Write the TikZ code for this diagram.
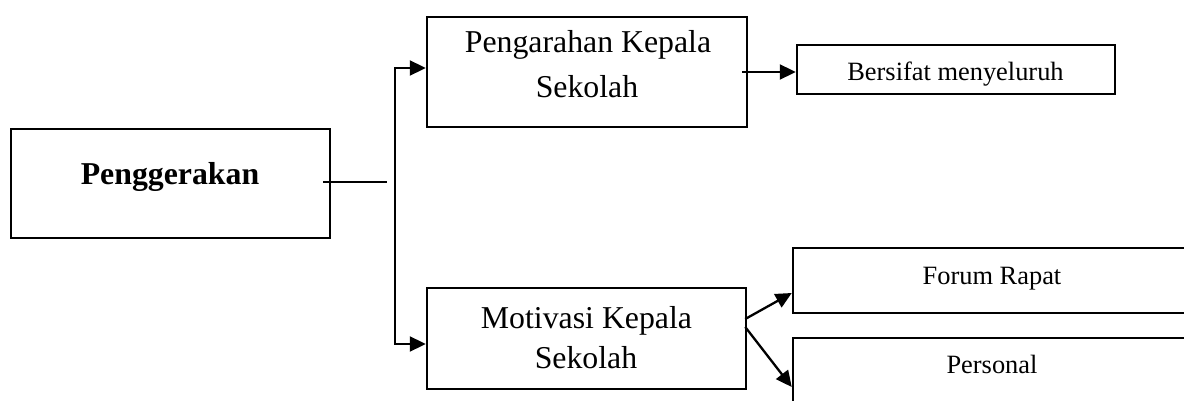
\documentclass[tikz,border=0pt]{standalone}
\usepackage{fontspec}
\setmainfont{Liberation Serif}
\usetikzlibrary{arrows.meta}
\begin{document}
\begin{tikzpicture}[x=1pt,y=-1pt,
  box/.style={draw,line width=2.5pt,rectangle,inner sep=0pt},
  big/.style={inner sep=0pt,anchor=base,font=\fontsize{31.8}{36}\selectfont},
  small/.style={inner sep=0pt,anchor=base,font=\fontsize{26.4}{30}\selectfont},
  conn/.style={line width=2.3pt},
  arr/.style={line width=2.3pt,-{Triangle[length=16pt,width=15pt]}}]
\clip (0,0) rectangle (1184,401);
\fill[white] (0,0) rectangle (1184,401);

% boxes
\node[box,minimum width=319pt,minimum height=109pt] (pg) at (170.5,183.5) {};
\node[box,minimum width=320pt,minimum height=110pt] (pk) at (587,72) {};
\node[box,minimum width=318pt,minimum height=49pt]  (bm) at (956,69.5) {};
\node[box,minimum width=319pt,minimum height=101pt] (mk) at (586.5,338.5) {};
\node[box,minimum width=398pt,minimum height=65pt]  (fr) at (992,280.5) {};
\node[box,minimum width=398pt,minimum height=74pt]  (ps) at (992,375) {};

% texts
\node[big,font=\fontsize{31.8}{36}\selectfont\bfseries] (pg-t) at (170,185) {Penggerakan};
\node[big] (pk-t1) at (588,53) {Pengarahan Kepala};
\node[big] (pk-t2) at (587,98) {Sekolah};
\node[big] (mk-t1) at (586.5,328) {Motivasi Kepala};
\node[big] (mk-t2) at (586,368) {Sekolah};
\node[small] (bm-t) at (955.5,81) {Bersifat menyeluruh};
\node[small] (fr-t) at (992,284) {Forum Rapat};
\node[small] (ps-t) at (992,373) {Personal};

% connectors
\coordinate (stub) at (387,182);
\coordinate (bus) at (395,182);
\draw[conn] ([xshift=-8pt,yshift=1.5pt]pg.east) -- (stub);
\draw[arr] (bus) |- ([yshift=4pt]pk.west);
\draw[arr] (bus) |- ([yshift=-5.5pt]mk.west);
\draw[arr] ([xshift=-6pt]pk.east) -- (pk.east -| bm.west);
\draw[arr] ([xshift=-2pt,yshift=19.5pt]mk.east) -- ([yshift=-12.5pt]fr.west);
\draw[arr] ([xshift=-2pt,yshift=11.5pt]mk.east) -- ([yshift=-12pt]ps.west);
\end{tikzpicture}
\end{document}
